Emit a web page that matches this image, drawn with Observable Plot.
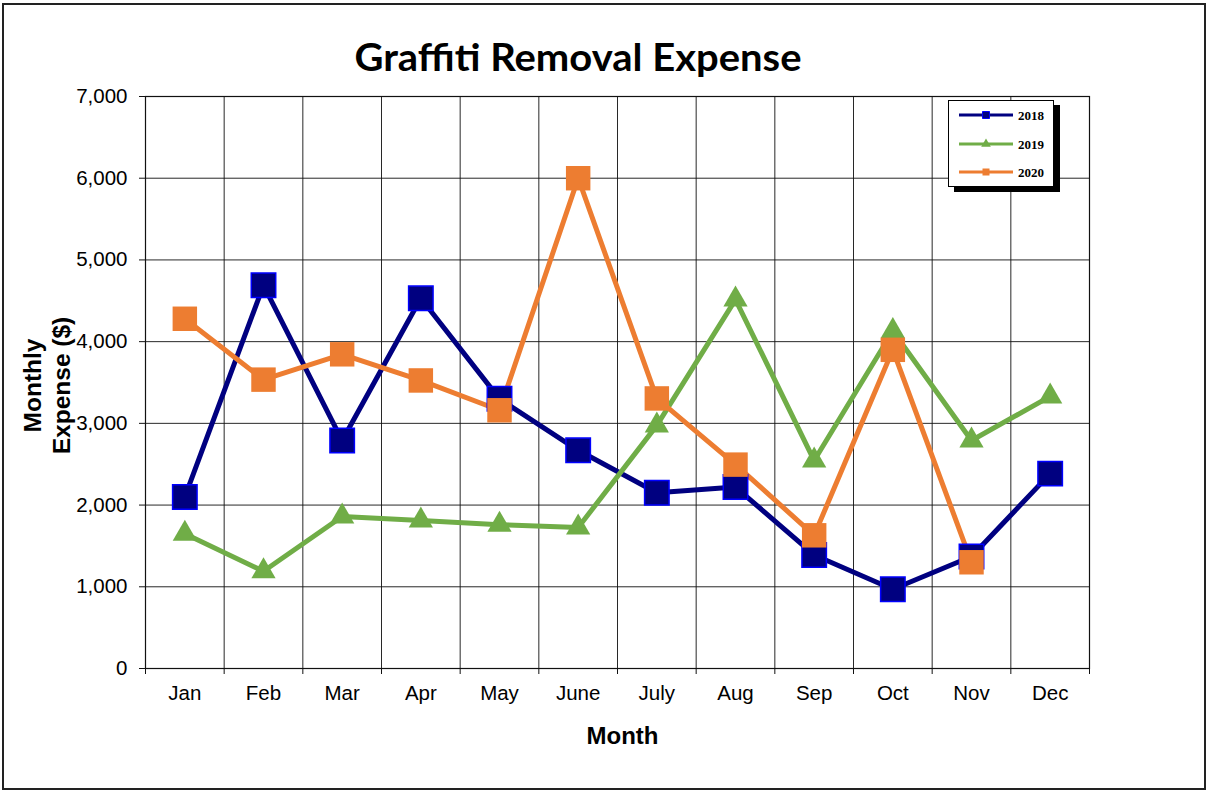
<!DOCTYPE html>
<html>
<head>
<meta charset="utf-8">
<script src="https://cdn.jsdelivr.net/npm/d3@7"></script>
<script src="https://cdn.jsdelivr.net/npm/@observablehq/plot@0.6"></script>
<style>
  html, body { margin: 0; padding: 0; background: #fff; }
  #wrap { position: relative; width: 1208px; height: 791px; overflow: hidden; }
  #border { position: absolute; left: 2px; top: 3px; width: 1200px; height: 783px; border: 2px solid #222; pointer-events: none; }
  #title { position: absolute; left: 0; top: 0; }
  #legend { position: absolute; left: 948px; top: 100px; width: 104px; height: 85px; background: #fff; border: 1px solid #000; box-shadow: 6px 5px 0 #000; }
</style>
</head>
<body>
<div id="wrap">
  <div id="chart"></div>
  <svg id="title" width="1208" height="100">
    <text x="578" y="71" text-anchor="middle" font-family="Lato, 'Open Sans', sans-serif" font-weight="700" font-size="38" textLength="447" lengthAdjust="spacingAndGlyphs">Graffiti Removal Expense</text>
  </svg>
  <div id="legend"></div>
  <div id="border"></div>
</div>
<script>
const months = ["Jan","Feb","Mar","Apr","May","June","July","Aug","Sep","Oct","Nov","Dec"];
const seriesNames = ["2018","2019","2020"];
const values2018 = [2100, 4690, 2790, 4530, 3300, 2670, 2150, 2220, 1390, 970, 1370, 2385];
const values2019 = [1650, 1190, 1860, 1810, 1760, 1725, 2975, 4515, 2545, 4130, 2790, 3330];
const values2020 = [4280, 3535, 3845, 3525, 3160, 6000, 3305, 2495, 1630, 3900, 1300, null];
const yTicks = [0, 1000, 2000, 3000, 4000, 5000, 6000, 7000];

const colors = {"2018": "#000080", "2019": "#70AD47", "2020": "#ED7D31"};
const symbols = {"2018": "square", "2019": "triangle", "2020": "square"};
const strokes = {"2018": "#0000FF", "2019": "none", "2020": "none"};
const radii = {"2018": 13.8, "2019": 9.0, "2020": 13.8};

const allValues = {"2018": values2018, "2019": values2019, "2020": values2020};
const rows = s => allValues[s].map((v, i) => ({month: i + 1, value: v, series: s}));

const centers = months.map((m, i) => i + 1);
const bounds = d3.range(0, months.length + 1).map(i => i + 0.5);

const marks = [
  Plot.gridY({ticks: yTicks, stroke: "#111", strokeOpacity: 0.9, strokeWidth: 1}),
  Plot.gridX({ticks: bounds, stroke: "#111", strokeOpacity: 0.9, strokeWidth: 1}),
  Plot.frame({stroke: "#111", strokeWidth: 1.2}),
  Plot.axisY({ticks: yTicks, tickSize: 6, tickPadding: 12, tickFormat: d3.format(","), fontSize: 20.5, label: null, stroke: "#111"}),
  Plot.axisX({ticks: bounds, tickSize: 6, tickFormat: () => "", label: null, stroke: "#111"}),
  Plot.axisX({ticks: centers, tickSize: 0, tickPadding: 17, tickFormat: i => months[i - 1], fontSize: 20.5, label: null}),
  Plot.text(["Month"], {frameAnchor: "bottom", dx: 5, dy: 68, lineAnchor: "middle", fontSize: 24, fontWeight: "bold", fill: "#000"}),
  Plot.text(["Monthly\nExpense ($)"], {frameAnchor: "left", dx: -99, dy: 3, rotate: -90, textAnchor: "middle", lineAnchor: "middle", lineHeight: 1.15, fontSize: 24.5, fontWeight: "bold", fill: "#000"})
];

for (const s of seriesNames) {
  const data = rows(s);
  marks.push(Plot.line(data, {x: "month", y: "value", stroke: colors[s], strokeWidth: 5, defined: d => d.value != null}));
}
for (const s of seriesNames) {
  const data = rows(s).filter(d => d.value != null);
  marks.push(Plot.dot(data, {x: "month", y: "value", symbol: symbols[s], r: radii[s], fill: colors[s], stroke: strokes[s], strokeWidth: 1.5}));
}

const chart = Plot.plot({
  width: 1208,
  height: 791,
  marginLeft: 145,
  marginRight: 119,
  marginTop: 96,
  marginBottom: 123,
  style: {fontFamily: "'Liberation Sans', Arial, sans-serif", color: "#000", background: "#fff"},
  x: {type: "linear", domain: [0.5, months.length + 0.5], axis: null},
  y: {domain: [0, 7000], axis: null},
  marks
});
document.getElementById("chart").appendChild(chart);

// Legend
const legendRowY = [14, 43, 71];
const ls = d3.select("#legend").append("svg").attr("width", 104).attr("height", 85);
seriesNames.forEach((s, i) => {
  const y = legendRowY[i];
  ls.append("line").attr("x1", 10).attr("x2", 64).attr("y1", y).attr("y2", y)
    .attr("stroke", colors[s]).attr("stroke-width", 3);
  const sym = d3.symbol().type(symbols[s] === "square" ? d3.symbolSquare : d3.symbolTriangle)
    .size(symbols[s] === "square" ? 49 : 40);
  ls.append("path").attr("d", sym()).attr("transform", `translate(37,${y})`)
    .attr("fill", colors[s]).attr("stroke", strokes[s]).attr("stroke-width", 1);
  ls.append("text").attr("x", 69).attr("y", y + 4.5).text(s)
    .attr("font-family", "'Liberation Serif', 'Times New Roman', serif")
    .attr("font-weight", "bold").attr("font-size", 13).attr("fill", "#000");
});
</script>
</body>
</html>
